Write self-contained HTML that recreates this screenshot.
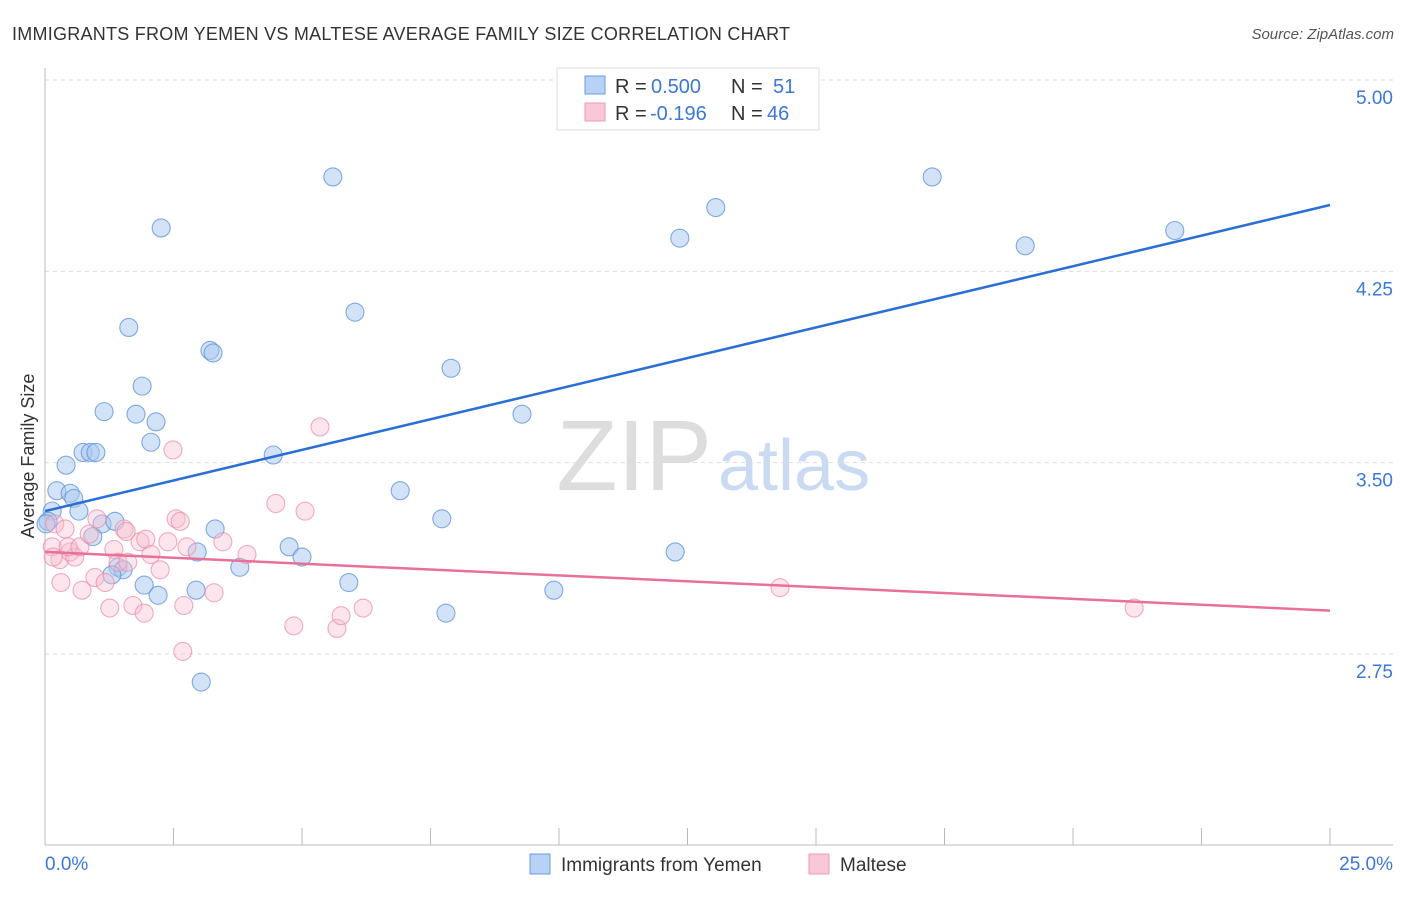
<!DOCTYPE html>
<html><head><meta charset="utf-8"><style>
body{margin:0;background:#fff;font-family:"Liberation Sans",sans-serif;}
svg text{font-family:"Liberation Sans",sans-serif;}
</style></head><body>
<svg id="chart" width="1406" height="892">
<text x="12" y="40" font-size="18" fill="#333" textLength="778">IMMIGRANTS FROM YEMEN VS MALTESE AVERAGE FAMILY SIZE CORRELATION CHART</text>
<text x="1394" y="39" font-size="15" fill="#555" font-style="italic" text-anchor="end">Source: ZipAtlas.com</text>
<text x="712" y="490" font-size="100" fill="#ddd" text-anchor="end" font-family="Liberation Serif">ZIP</text>
<text x="718" y="490" font-size="72" fill="#c9daf2">atlas</text>
<text transform="translate(34,456) rotate(-90)" font-size="18" fill="#333" text-anchor="middle">Average Family Size</text>
<g id="grid"></g><g id="axes"></g><g id="pts"></g><g id="lines"></g>
<g>
<rect x="557" y="68" width="262" height="62" fill="#fff" stroke="#ddd"/>
<rect x="585" y="76" width="20" height="18" fill="#b7d2f5" stroke="#6b9be0"/>
<rect x="585" y="103" width="20" height="18" fill="#f9c8d8" stroke="#ec9ab5"/>
<text y="93" font-size="20" fill="#333"><tspan x="615">R =</tspan><tspan x="651" fill="#3b78d8">0.500</tspan><tspan x="731">N =</tspan><tspan x="773" fill="#3b78d8">51</tspan></text>
<text y="120" font-size="20" fill="#333"><tspan x="615">R =</tspan><tspan x="650" fill="#3b78d8">-0.196</tspan><tspan x="731">N =</tspan><tspan x="767" fill="#3b78d8">46</tspan></text>
</g>
<g>
<rect x="530" y="854" width="20" height="20" fill="#b7d2f5" stroke="#6b9be0"/>
<text x="561" y="871" font-size="19" fill="#333">Immigrants from Yemen</text>
<rect x="809" y="854" width="20" height="20" fill="#f9c8d8" stroke="#ec9ab5"/>
<text x="840" y="871" font-size="19" fill="#333">Maltese</text>
</g>
</svg>
<script>
const yTicks=[5.00,4.25,3.50,2.75];
const yTickLabels=["5.00","4.25","3.50","2.75"];
const xTickLabels=["0.0%","25.0%"];
const yemenX=[5.60,2.26,1.63,3.21,3.27,1.89,1.15,1.77,2.16,2.06,0.74,0.88,0.99,0.41,0.23,0.49,0.56,0.14,0.66,0.06,1.11,1.36,0.93,3.31,4.44,2.96,3.79,1.42,1.52,1.30,1.93,2.20,2.94,4.75,5.00,5.91,3.04,6.03,7.90,9.28,6.91,7.72,7.80,9.90,12.26,12.35,13.05,17.26,19.07,21.98,0.02];
const yemenY=[4.62,4.42,4.03,3.94,3.93,3.80,3.70,3.69,3.66,3.58,3.54,3.54,3.54,3.49,3.39,3.38,3.36,3.31,3.31,3.27,3.26,3.27,3.21,3.24,3.53,3.15,3.09,3.09,3.08,3.06,3.02,2.98,3.00,3.17,3.13,3.03,2.64,4.09,3.87,3.69,3.39,3.28,2.91,3.00,3.15,4.38,4.50,4.62,4.35,4.41,3.26];
const malteseX=[0.19,0.39,0.14,0.29,0.16,0.49,0.58,0.45,0.68,0.86,0.72,0.97,1.17,1.26,1.34,1.42,1.54,1.58,1.61,1.71,1.93,1.85,1.96,2.06,2.24,2.39,2.49,2.55,2.63,2.76,2.70,2.68,3.29,3.46,3.93,4.49,4.84,5.06,5.35,5.68,5.76,6.19,14.30,21.19,0.31,1.01];
const malteseY=[3.26,3.24,3.17,3.12,3.13,3.15,3.13,3.17,3.17,3.22,3.00,3.05,3.03,2.93,3.16,3.11,3.24,3.23,3.11,2.94,2.91,3.19,3.20,3.14,3.08,3.19,3.55,3.28,3.27,3.17,2.94,2.76,2.99,3.19,3.14,3.34,2.86,3.31,3.64,2.85,2.90,2.93,3.01,2.93,3.03,3.28];
const yemenTrend=[3.31,4.51];
const malteseTrend=[3.15,2.92];
const X0=45,X1=1330,XMAX=25;
const sx=v=>X0+(v/XMAX)*(X1-X0);
const sy=v=>80+(5-v)*255.1;
const NS="http://www.w3.org/2000/svg";
function mk(tag,attrs,parent){const e=document.createElementNS(NS,tag);for(const k in attrs)e.setAttribute(k,attrs[k]);document.getElementById(parent).appendChild(e);return e;}
yTicks.forEach((t,i)=>{
 const l=mk('line',{x1:45,x2:1393,y1:sy(t),y2:sy(t),stroke:'#ddd','stroke-dasharray':'4,4'},'grid');
 
 
 const tx=mk('text',{x:1393,y:sy(t)+24,'font-size':19,fill:'#3b78d8','text-anchor':'end'},'grid');
 tx.textContent=yTickLabels[i];
 
 
});
let a=mk('line',{x1:45,x2:45,y1:68,y2:845,stroke:'#bbb'},'axes');


a=mk('line',{x1:45,x2:1393,y1:845,y2:845,stroke:'#bbb'},'axes');


for(let i=0;i<=10;i++){
 const t=mk('line',{x1:sx(i*2.5),x2:sx(i*2.5),y1:828,y2:845,stroke:'#bbb'},'axes');
 
 
}
[[0,'start',45],[1,'end',1393]].forEach(([i,anc,x])=>{
 const t=mk('text',{x:x,y:870,'font-size':19,fill:'#3b78d8','text-anchor':anc},'axes');
 t.textContent=xTickLabels[i];
 
 
});
yemenX.forEach((v,i)=>{
 const c=mk('circle',{cx:sx(v),cy:sy(yemenY[i]),r:9,fill:'#a8c8f0','fill-opacity':0.5,stroke:'#5b8fd8','stroke-opacity':0.75,'stroke-width':1.1},'pts');
 
 
});
malteseX.forEach((v,i)=>{
 const c=mk('circle',{cx:sx(v),cy:sy(malteseY[i]),r:9,fill:'#f7bfd0','fill-opacity':0.4,stroke:'#e88aa8','stroke-opacity':0.7,'stroke-width':1.1},'pts');
 
 
});
let tl=mk('line',{x1:sx(0),x2:sx(25),y1:sy(yemenTrend[0]),y2:sy(yemenTrend[1]),stroke:'#2a6fd6','stroke-width':2.5},'lines');


tl=mk('line',{x1:sx(0),x2:sx(25),y1:sy(malteseTrend[0]),y2:sy(malteseTrend[1]),stroke:'#e8709a','stroke-width':2.5},'lines');


</script>
</body></html>
